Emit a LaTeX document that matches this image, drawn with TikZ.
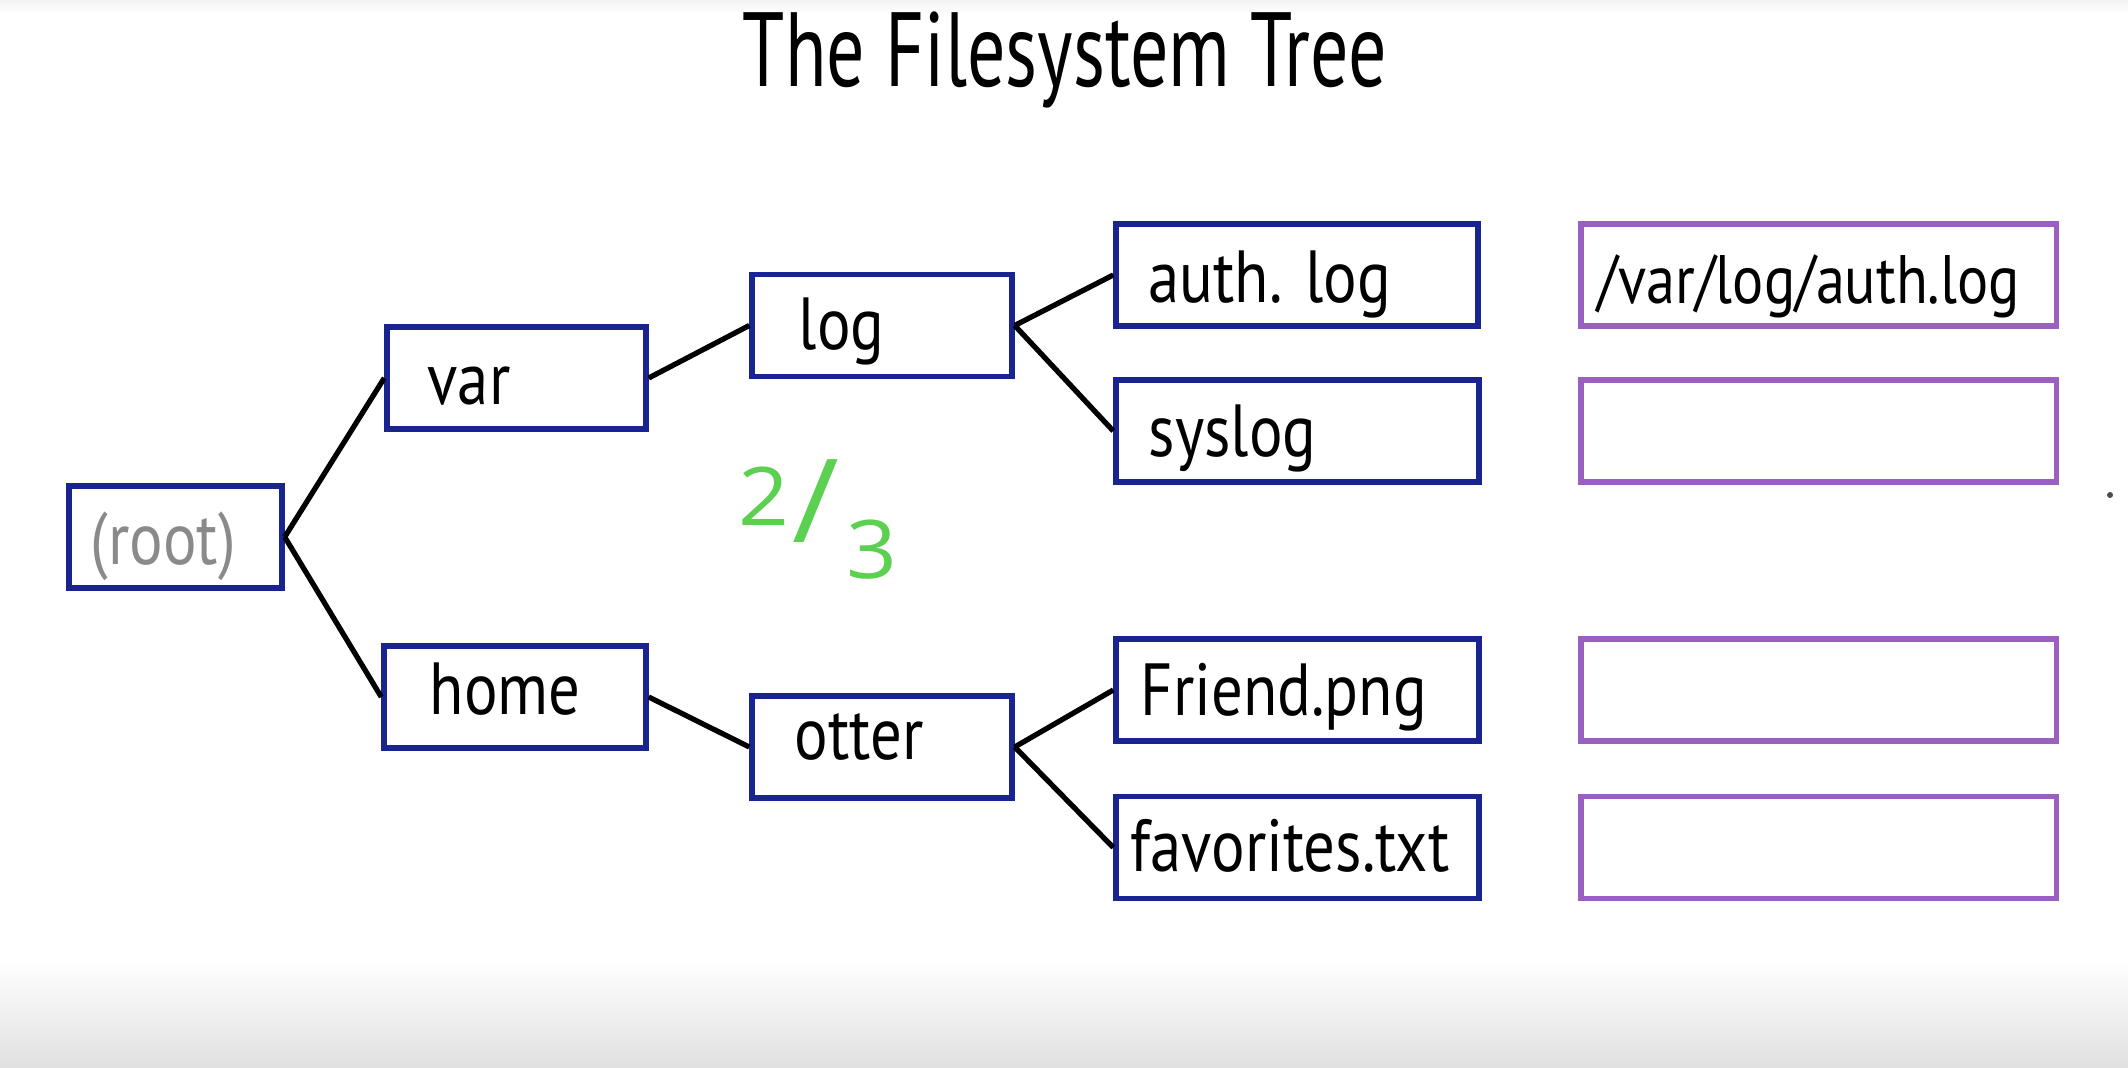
\documentclass[tikz,border=0pt]{standalone}
\usepackage{fontspec}
\setmainfont{PT Sans}[FakeStretch=0.85]
\newfontfamily\titlefont{PT Sans}[FakeStretch=0.72]
\newfontfamily\digitfont{Open Sans}[FakeStretch=1.1]
\usetikzlibrary{positioning}
\definecolor{boxblue}{RGB}{26,36,145}
\definecolor{boxpurple}{RGB}{155,95,192}
\definecolor{markgreen}{RGB}{92,208,80}
\definecolor{rootgray}{RGB}{138,138,138}
\tikzset{
  bluebox/.style={draw=boxblue, line width=1.5pt, minimum height=1.02cm, inner sep=0pt},
  purplebox/.style={draw=boxpurple, line width=1.5pt, minimum width=4.75cm, minimum height=1.02cm, inner sep=0pt},
  lbl/.style={anchor=base west, inner sep=0pt, font=\fontsize{21}{24}\selectfont},
  edge/.style={draw=black, line width=1.5pt},
  greenmark/.style={text=markgreen, inner sep=0pt, font=\digitfont\fontsize{23}{26}\selectfont}
}
\begin{document}
\begin{tikzpicture}[x=0.01cm, y=-0.01cm]
\useasboundingbox (0,0) rectangle (2128,1068);
\fill[white] (0,0) rectangle (2128,1068);
\shade[top color=white, bottom color=black!12] (0,960) rectangle (2128,1068);
\shade[top color=black!5, bottom color=white] (0,0) rectangle (2128,14);

% title
\node[anchor=base, inner sep=0pt, font=\titlefont\fontsize{30}{34}\selectfont] (title) at (1065,87) {The Filesystem Tree};

% boxes
\node[bluebox, minimum width=2.13cm] (root) at (175.5,537) {};
\node[bluebox, minimum width=2.59cm] (var) at (516.5,378) {};
\node[bluebox, minimum width=2.62cm] (home) at (515,697) {};
\node[bluebox, minimum width=2.60cm] (log) at (882,325.5) {};
\node[bluebox, minimum width=2.60cm] (otter) at (882,747) {};
\node[bluebox, minimum width=3.62cm] (auth) at (1297,275) {};
\node[bluebox, minimum width=3.63cm] (syslog) at (1297.5,431) {};
\node[bluebox, minimum width=3.63cm] (friend) at (1297.5,690) {};
\node[bluebox, minimum width=3.63cm] (fav) at (1297.5,847.5) {};

\node[purplebox] (p1) at (1818.5,275) {};
\node[purplebox] (p2) at (1818.5,431) {};
\node[purplebox] (p3) at (1818.5,690) {};
\node[purplebox] (p4) at (1818.5,847.5) {};

% labels
\node[lbl, text=rootgray] (root-t) at (90,565) {(root)};
\node[lbl] (var-t) at (427,405) {var};
\node[lbl] (home-t) at (429,715) {home};
\node[lbl] (log-t) at (798,350) {log};
\node[lbl] (otter-t) at (794,760) {otter};
\node[lbl] (auth-t) at (1148,303) {auth. log};
\node[lbl] (syslog-t) at (1148,457) {syslog};
\node[lbl] (friend-t) at (1140,716) {Friend.png};
\node[lbl] (fav-t) at (1130,872) {favorites.txt};
\node[lbl, font=\fontsize{19.5}{22}\selectfont] (p1-t) at (1597,304) {/var/log/auth.log};

% connectors
\draw[edge] (root.east) -- (var.west);
\draw[edge] (root.east) -- (home.west);
\draw[edge] (var.east) -- (log.west);
\draw[edge] (home.east) -- (otter.west);
\draw[edge] (log.east) -- (auth.west);
\draw[edge] (log.east) -- (syslog.west);
\draw[edge] (otter.east) -- (friend.west);
\draw[edge] (otter.east) -- (fav.west);

% green mark
\node[greenmark] (two) at (764,496) {2};
\node[greenmark, font=\digitfont\fontsize{33}{36}\selectfont] (slash) at (816,521) {\makebox[0pt]{\smash{\raisebox{-0.35ex}{/}}}};
\node[greenmark] (three) at (872,550) {3};

% stray dot
\fill[black!70] (2110,495) circle (0.03cm);
\end{tikzpicture}
\end{document}
